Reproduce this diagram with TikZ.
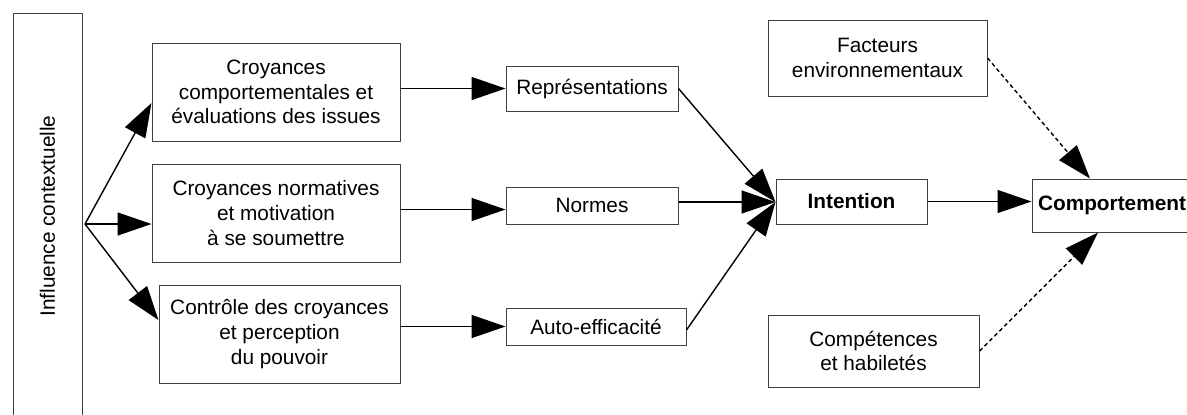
\documentclass[tikz,border=0pt]{standalone}
\usepackage{fontspec}
\setmainfont{Liberation Sans}
\usetikzlibrary{arrows.meta}
\usetikzlibrary{calc}

\begin{document}
\begin{tikzpicture}[x=.5pt, y=-.5pt,
 box/.style={draw=black!75, line width=.5pt, align=center, inner sep=2pt, font=\fontsize{10.4}{12.3}\selectfont},
 arr/.style={line width=.7pt, -{Triangle[length=17pt, width=11.5pt]}},
 darr/.style={arr, dash pattern=on 2pt off 1.5pt}]
\useasboundingbox (0,0) rectangle (1187,414);
\node[box, rotate=90, minimum width=203pt, minimum height=34.5pt] (infl) at (47.5,216) {Influence contextuelle};
\node[box, minimum width=124pt, minimum height=49pt] (croyc) at (276,92) {Croyances\\comportementales et\\évaluations des issues};
\node[box, minimum width=124pt, minimum height=49pt] (croyn) at (276,213) {Croyances normatives\\et motivation\\à se soumettre};
\node[box, minimum width=120.5pt, minimum height=49pt] (ctrl) at (279.5,334) {Contrôle des croyances\\et perception\\du pouvoir};
\node[box, minimum width=86pt, minimum height=22.5pt] (repr) at (592,88.5) {Représentations};
\node[box, minimum width=86pt, minimum height=18.5pt] (norm) at (592,205.5) {Normes};
\node[box, minimum width=90pt, minimum height=18.5pt] (auto) at (596,326.5) {Auto-efficacité};
\node[box, minimum width=75.5pt, minimum height=22.5pt, font=\fontsize{10.4}{12.3}\selectfont\bfseries] (inten) at (851.5,201.5) {Intention};
\node[box, minimum width=80pt, minimum height=26.5pt, font=\fontsize{10.4}{12.3}\selectfont\bfseries] (compt) at (1112,205.5) {Comportement};
\node[box, minimum width=109.5pt, minimum height=38pt] (fact) at (877.5,58) {Facteurs\\environnementaux};
\node[box, minimum width=105.5pt, minimum height=36pt] (habil) at (873.5,351) {Compétences\\et habiletés};
\coordinate (apex) at (85,224);
\draw[arr] (apex) -- ([yshift=-5.5pt]croyc.west);
\draw[arr] (apex) -- (apex -| croyn.west);
\draw[arr] (apex) -- ([yshift=7pt]ctrl.west);
\draw[arr] (croyc.east |- repr.west) -- (repr.west);
\draw[arr] ([yshift=-2pt]croyn.east |- norm.west) -- ([yshift=-2pt]norm.west);
\draw[arr] (ctrl.east |- auto.west) -- (auto.west);
\draw[arr] (repr.east) -- ([yshift=-.25pt]inten.west);
\draw[arr] ([yshift=1.75pt]norm.east) -- ([yshift=-.25pt]inten.west);
\draw[arr] ([yshift=-1.75pt]auto.east) -- ([yshift=-.25pt]inten.west);
\draw[arr] (inten.east) -- (inten.east -| compt.west);
\draw[darr] (fact.east) -- ([xshift=-11pt]compt.north);
\draw[darr] (habil.east) -- ([xshift=-7pt]compt.south);
\end{tikzpicture}
\end{document}
